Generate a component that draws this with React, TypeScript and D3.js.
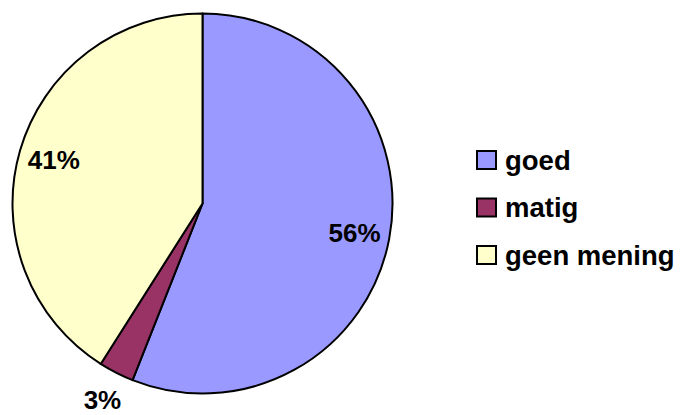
import React from "react";
import * as d3 from "d3";

const categories = ["goed", "matig", "geen mening"];
const values = [56, 3, 41];
const labels = ["56%", "3%", "41%"];
const colors = ["#9999FF", "#993366", "#FFFFCC"];

const W = 682;
const H = 415;
const cx = 202.5;
const cy = 203.5;
const R = 190;
const FONT = "'Liberation Sans', Arial, sans-serif";

export default function App() {
  const pie = d3.pie<number>().sort(null).value((d) => d)(values);
  const arc = d3.arc<d3.PieArcDatum<number>>().innerRadius(0).outerRadius(R);
  const labelR = [0.815 * R, 1.16 * R, 0.815 * R];
  const legendY = d3.scalePoint<string>().domain(categories).range([160, 255]);

  return (
    <svg
      width={W}
      height={H}
      style={{ position: "absolute", left: 0, top: 0 }}
      fontFamily={FONT}
    >
      <rect width={W} height={H} fill="#fff" />
      <g transform={`translate(${cx},${cy})`}>
        {pie.map((p, i) => (
          <path key={i} d={arc(p) || ""} fill={colors[i]} stroke="#000" strokeWidth={2} strokeLinejoin="round" />
        ))}
        {pie.map((p, i) => {
          const a = (p.startAngle + p.endAngle) / 2;
          const r = labelR[i];
          const x = Math.sin(a) * r;
          const y = -Math.cos(a) * r;
          return (
            <text
              key={i}
              x={x}
              y={y}
              textAnchor="middle"
              dominantBaseline="central"
              fontWeight="bold"
              fontSize={26}
              fill="#000"
            >
              {labels[i]}
            </text>
          );
        })}
      </g>
      {categories.map((c, i) => {
        const y = legendY(c)!;
        return (
          <g key={c}>
            <rect x={477} y={y - 9} width={19} height={18} fill={colors[i]} stroke="#000" strokeWidth={2} />
            <text x={505} y={y + 9.5} fontWeight="bold" fontSize={27.5} fill="#000">
              {c}
            </text>
          </g>
        );
      })}
    </svg>
  );
}
